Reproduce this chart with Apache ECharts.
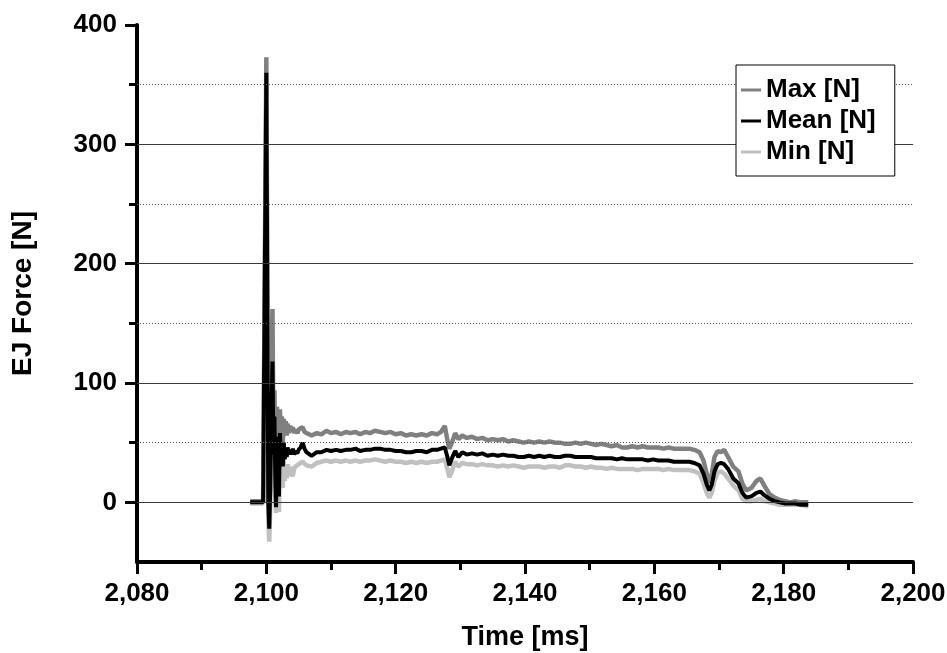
<!DOCTYPE html>
<html>
<head>
<meta charset="utf-8">
<script src="https://cdn.jsdelivr.net/npm/echarts@6/dist/echarts.min.js"></script>
<style>html,body{margin:0;padding:0;background:#fff}#c{width:947px;height:653px}</style>
</head>
<body>
<div id="c"></div>
<script>
// Time [ms]
var timeMs = [2097.5,2098.5,2099.5,2099.8,2100.0,2100.15,2100.3,2100.45,2100.6,2100.8,2100.95,2101.1,2101.25,2101.4,2101.5,2101.65,2101.8,2101.95,2102.1,2102.25,2102.4,2102.55,2102.7,2102.85,2103.0,2103.15,2103.3,2103.5,2103.7,2103.9,2104.1,2104.3,2104.5,2104.8,2105.0,2105.3,2105.6,2105.9,2106.2,2107.0,2107.8,2108.5,2109.3,2110.0,2110.8,2111.5,2112.3,2113.0,2113.8,2114.5,2115.3,2116.0,2116.8,2117.6,2118.4,2119.2,2120.0,2120.8,2121.6,2122.4,2123.2,2124.0,2124.8,2125.6,2126.4,2127.0,2127.6,2128.0,2128.3,2128.7,2129.2,2129.7,2130.3,2131.0,2131.8,2132.6,2133.4,2134.2,2135.0,2135.8,2136.6,2137.4,2138.2,2139.0,2139.8,2140.6,2141.4,2142.2,2143.0,2143.8,2144.6,2145.4,2146.2,2147.0,2147.8,2148.6,2149.4,2150.2,2151.0,2151.8,2152.6,2153.4,2154.2,2155.0,2155.8,2156.6,2157.4,2158.2,2159.0,2159.8,2160.6,2161.4,2162.2,2163.0,2163.8,2164.6,2165.4,2166.2,2167.0,2167.6,2168.1,2168.5,2168.9,2169.3,2169.8,2170.3,2170.8,2171.4,2172.2,2173.0,2173.6,2174.2,2175.0,2175.8,2176.4,2177.0,2177.8,2178.6,2179.4,2180.2,2181.0,2181.8,2182.6,2183.4,2183.8];
var maxN  = [1,1,1,2,373,200,20,-15,30,120,162,60,94,40,15,80,40,20,78,55,72,50,70,58,68,56,66,58,64,60,63,58,61,58,61,60,63,59,58,56,58,57,60,58,59,57,59,58,59,57,59,58,60,59,58,59,57,58,56,57,56,57,56,58,57,59,64,52,45,50,58,53,56,54,55,53,54,52,53,52,53,51,52,51,50,51,50,51,50,51,50,50,49,49,50,49,50,49,48,49,48,47,48,46,46,47,46,47,46,46,46,45,46,45,45,45,45,44,42,35,24,16,24,38,43,42,44,38,30,26,16,10,12,18,20,14,7,4,2,1,0,1,0,0,0];
var meanN = [0,0,0,1,360,170,0,-22,10,80,118,40,72,15,-4,55,20,5,58,35,50,30,50,36,46,38,46,40,44,40,45,40,43,41,44,46,50,45,42,39,42,42,44,43,44,43,44,44,45,43,44,44,45,45,44,44,43,43,42,42,43,43,42,44,44,45,46,38,31,37,43,38,42,40,41,40,41,39,40,39,40,39,39,38,38,39,38,39,38,39,38,38,39,39,38,38,38,38,37,37,37,37,36,37,36,36,36,36,35,36,35,35,35,34,34,34,34,33,31,24,15,10,15,26,32,33,32,28,20,16,8,4,5,8,9,6,3,1,0,-1,-1,-1,-2,-2,-2];
var minN  = [-1,-1,-1,0,340,140,-15,-33,-5,50,85,20,45,0,-9,30,0,-8,35,15,28,12,35,18,30,20,32,22,30,24,22,28,30,31,32,33,34,33,31,30,33,34,35,34,35,34,35,34,35,34,35,35,36,35,34,35,34,34,33,34,33,34,33,34,34,35,36,28,21,26,34,30,33,32,32,31,32,31,31,30,31,30,31,30,29,30,30,30,29,30,30,29,31,31,30,30,29,30,29,29,28,29,28,28,28,28,27,28,28,28,28,27,28,27,27,27,27,26,24,16,8,4,8,18,25,26,24,20,14,10,3,1,1,2,3,1,0,-1,-2,-2,-2,-2,-2,-3,-3];

var seriesNames = ['Max [N]', 'Mean [N]', 'Min [N]'];
var yMajorTicks = [0, 100, 200, 300, 400];
var yMinorTicks = [50, 150, 250, 350];
var solidGrid = [0, 100, 200, 300];
var dottedGrid = [50, 150, 250, 350];

function pairs(vals) { return timeMs.map(function (t, i) { return [t, vals[i]]; }); }

var FONT = "'Liberation Sans', Arial, sans-serif";
var chart = echarts.init(document.getElementById('c'), null, { renderer: 'canvas' });

var markData = solidGrid.map(function (v) { return { yAxis: v, lineStyle: { type: 'solid', color: '#3a3a3a', width: 1 } }; })
  .concat(dottedGrid.map(function (v) { return { yAxis: v, lineStyle: { type: [1, 2], color: '#555', width: 1 } }; }));

chart.setOption({
  animation: false,
  backgroundColor: '#fff',
  grid: { left: 137, right: 34, top: 25, bottom: 91, containLabel: false, outerBoundsMode: 'none' },
  legend: {
    data: seriesNames,
    orient: 'vertical',
    left: 736, top: 65,
    padding: [12, 19, 11, 5],
    itemGap: 5,
    itemWidth: 20, itemHeight: 3,
    icon: 'rect',
    borderColor: '#000', borderWidth: 1,
    backgroundColor: '#fff',
    textStyle: { fontFamily: FONT, fontWeight: 'bold', fontSize: 26, color: '#000', lineHeight: 26 },
    z: 10
  },
  xAxis: {
    type: 'value', min: 2080, max: 2200, interval: 20,
    name: 'Time [ms]', nameLocation: 'middle', nameGap: 62,
    nameTextStyle: { fontFamily: FONT, fontWeight: 'bold', fontSize: 27, color: '#000' },
    axisLine: { onZero: false, lineStyle: { color: '#000', width: 4 } },
    axisTick: { length: 12, lineStyle: { color: '#000', width: 3 } },
    minorTick: { show: true, splitNumber: 2, length: 8, lineStyle: { color: '#000', width: 3 } },
    axisLabel: { margin: 19, fontFamily: FONT, fontWeight: 'bold', fontSize: 26, color: '#000',
      formatter: function (v) { return String(v).replace(/\B(?=(\d{3})+(?!\d))/g, ','); } },
    splitLine: { show: false }
  },
  yAxis: [{
    type: 'value', min: -50, max: 400, interval: 50, position: 'left',
    name: 'EJ Force [N]', nameLocation: 'middle', nameGap: 100, nameRotate: 90,
    nameTextStyle: { fontFamily: FONT, fontWeight: 'bold', fontSize: 28, color: '#000' },
    axisLine: { show: true, onZero: false, lineStyle: { color: '#000', width: 4 } },
    axisTick: { show: true, length: 12, customValues: yMajorTicks, lineStyle: { color: '#000', width: 3 } },
    axisLabel: { margin: 20, customValues: yMajorTicks, fontFamily: FONT, fontWeight: 'bold', fontSize: 26, color: '#000' },
    splitLine: { show: false }
  }, {
    type: 'value', min: -50, max: 400, interval: 50, position: 'left', offset: 0,
    axisLine: { show: false, onZero: false },
    axisTick: { show: true, length: 8, customValues: yMinorTicks, lineStyle: { color: '#000', width: 3 } },
    axisLabel: { show: false },
    splitLine: { show: false }
  }],
  series: [
    { name: 'grid', type: 'line', data: [], silent: true, z: 1,
      markLine: { silent: true, symbol: 'none', label: { show: false }, animation: false, data: markData } },
    { name: seriesNames[0], type: 'line', data: pairs(maxN), showSymbol: false, z: 3,
      lineStyle: { color: '#808080', width: 4.5 }, itemStyle: { color: '#808080' } },
    { name: seriesNames[2], type: 'line', data: pairs(minN), showSymbol: false, z: 3,
      lineStyle: { color: '#c0c0c0', width: 4.5 }, itemStyle: { color: '#c0c0c0' } },
    { name: seriesNames[1], type: 'line', data: pairs(meanN), showSymbol: false, z: 4,
      lineStyle: { color: '#000', width: 4 }, itemStyle: { color: '#000' } }
  ]
});
</script>
</body>
</html>
